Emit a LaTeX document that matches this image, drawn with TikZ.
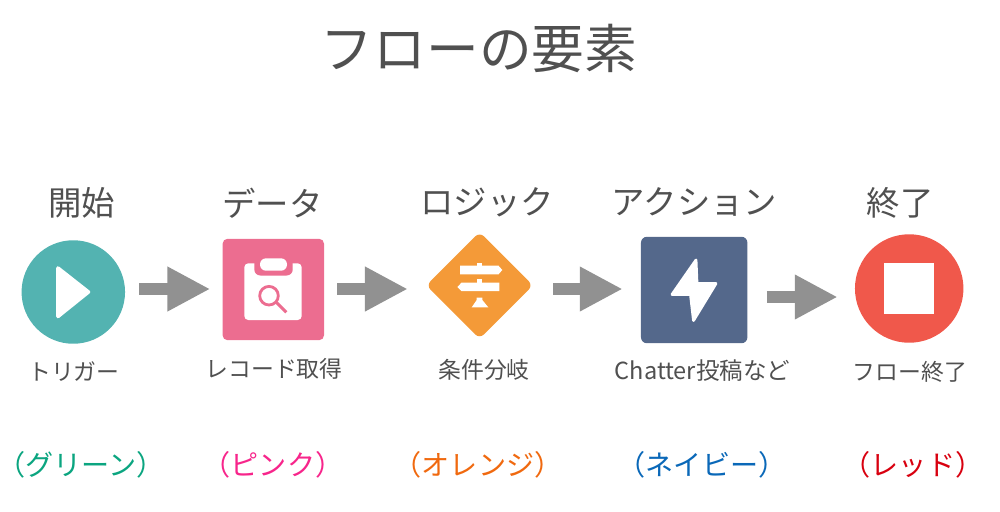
\documentclass[tikz,border=0pt]{standalone}
\usepackage{fontspec}
\setmainfont{Noto Sans CJK JP}
\usetikzlibrary{arrows.meta,
                positioning,
                shapes.geometric
            }
\definecolor{inkgray}{HTML}{505050}
\definecolor{arrowgray}{HTML}{919191}
\definecolor{tealfill}{HTML}{53B3B1}
\definecolor{pinkfill}{HTML}{EC6D90}
\definecolor{orangefill}{HTML}{F49A38}
\definecolor{navyfill}{HTML}{54688B}
\definecolor{redfill}{HTML}{F0584B}
\definecolor{greentext}{HTML}{0BA580}
\definecolor{pinktext}{HTML}{F7258B}
\definecolor{orangetext}{HTML}{F0690F}
\definecolor{bluetext}{HTML}{0A68B8}
\definecolor{redtext}{HTML}{D8000F}
\tikzset{
    titletext/.style={inner sep=0pt, text=inkgray, font=\fontsize{30pt}{32pt}\selectfont},
    headtext/.style={inner sep=0pt, text=inkgray, font=\fontsize{19pt}{22pt}\selectfont},
    subtext/.style={inner sep=0pt, text=inkgray, font=\fontsize{13pt}{15pt}\selectfont},
    colortext/.style={inner sep=0pt, font=\fontsize{16pt}{18pt}\selectfont},
    flowarrow/.style={draw=arrowgray, line width=7pt,
        -{Triangle[length=24.4pt, width=23.8pt, fill=arrowgray]}},
    whiteicon/.style={fill=white, draw=white, line join=round}
}
\begin{document}
\begin{tikzpicture}[x=0.02cm, y=-0.02cm]
    \useasboundingbox (0, 0) rectangle (1000, 511);
    % title
    \node[titletext] (title) at (479, 48) {フローの要素};
    % headers
    \node[headtext] (headstart) at (81.5, 203) {開始};
    \node[headtext] (headdata) at (272.5, 203) {データ};
    \node[headtext] (headlogic) at (487, 202) {ロジック};
    \node[headtext] (headaction) at (694.5, 202) {アクション};
    \node[headtext] (headend) at (900, 203) {終了};
    % elements
    \node[circle, fill=tealfill, inner sep=0pt, minimum size=2.07cm] (start) at (73.3, 292) {};
    \node[rectangle, rounded corners=0.1cm, fill=pinkfill, inner sep=0pt, minimum size=2.03cm] (data) at (273.3, 289.5) {};
    \node[diamond, rounded corners=0.12cm, fill=orangefill, inner sep=0pt, minimum size=2.14cm] (logic) at (479.6, 285.4) {};
    \node[rectangle, rounded corners=0.12cm, fill=navyfill, inner sep=0pt, minimum size=2.13cm] (action) at (694.2, 290) {};
    \node[circle, fill=redfill, inner sep=0pt, minimum size=2.17cm] (end) at (909.2, 288.5) {};
    % arrows
    \coordinate (rowa) at (0, 289);
    \coordinate (rowb) at (0, 297);
    \draw[flowarrow, shorten <=0.28cm, shorten >=0.24cm] (start.east |- rowa) -- (data.west |- rowa);
    \draw[flowarrow, shorten <=0.26cm, shorten >=0.36cm] (data.east |- rowa) -- (logic.west |- rowa);
    \draw[flowarrow, shorten <=0.40cm, shorten >=0.36cm] (logic.east |- rowa) -- (action.west |- rowa);
    \draw[flowarrow, shorten <=0.38cm, shorten >=0.34cm] (action.east |- rowb) -- (end.west |- rowb);
    % play icon
    \draw[whiteicon, line width=2pt] (58, 268) -- (88.5, 292) -- (58, 316.5) -- cycle;
    % clipboard icon
    \fill[white, rounded corners=0.08cm] (244.3, 263.3) rectangle (301.7, 320);
    \fill[pinkfill, rounded corners=0.12cm] (254.3, 258) rectangle (292.7, 275.5);
    \fill[white, rounded corners=0.12cm] (260, 258.3) rectangle (287, 270.7);
    \draw[pinkfill, line width=1.6pt] (269, 295.7) circle [radius=9.3];
    \draw[pinkfill, line width=1.8pt] (276.5, 302.5) -- (286.3, 312.3);
    % signpost icon
    \fill[white] (476.7, 262.7) rectangle (482.3, 266);
    \fill[white] (460, 265.7) -- (498.5, 265.7) -- (502.3, 270) -- (498.5, 274.3) -- (460, 274.3) -- cycle;
    \fill[white] (476.7, 279.3) rectangle (482.3, 283);
    \fill[white] (457.3, 287) -- (461.5, 282.7) -- (499.3, 282.7) -- (499.3, 291) -- (461.5, 291) -- cycle;
    \fill[white] (476.7, 297.7) -- (482.3, 297.7) -- (482.3, 300) -- (488.3, 307.3) -- (471.7, 307.3) -- (476.7, 300) -- cycle;
    % bolt icon
    \draw[whiteicon, line width=1.6pt] (696, 260) -- (672, 294.5) -- (690.5, 294.5) -- (693.5, 320.5) -- (716, 283.5) -- (697, 283.5) -- cycle;
    % stop icon
    \fill[white] (884, 263.3) rectangle (934.3, 314);
    % captions
    \node[subtext] (substart) at (74, 372) {トリガー};
    \node[subtext] (subdata) at (274, 369) {レコード取得};
    \node[subtext] (sublogic) at (484, 370) {条件分岐};
    \node[subtext, font=\fontsize{13.4pt}{15pt}\selectfont] (subaction) at (702.5, 371) {Chatter投稿など};
    \node[subtext] (subend) at (910, 372) {フロー終了};
    % color names
    \node[colortext, text=greentext] (namestart) at (81, 465) {（グリーン）};
    \node[colortext, text=pinktext] (namedata) at (273, 465) {（ピンク）};
    \node[colortext, text=orangetext] (namelogic) at (478, 465) {（オレンジ）};
    \node[colortext, text=bluetext] (nameaction) at (702, 465) {（ネイビー）};
    \node[colortext, text=redtext] (nameend) at (913, 465) {（レッド）};
\end{tikzpicture}
\end{document}
